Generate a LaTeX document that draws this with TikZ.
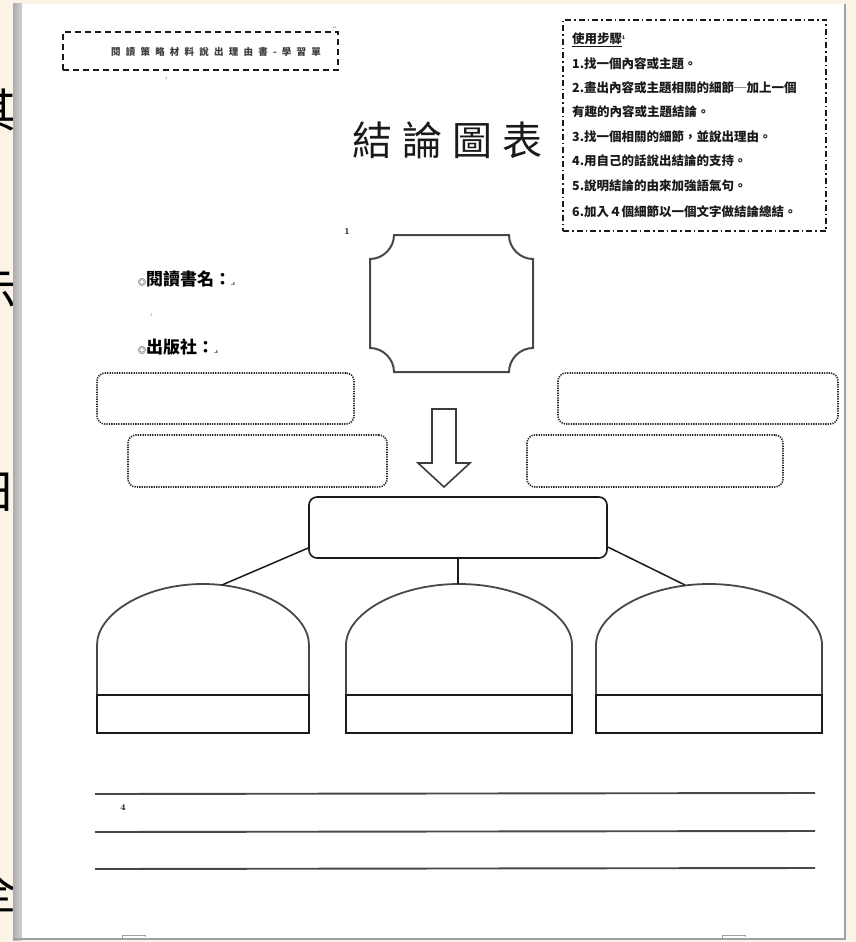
\documentclass[tikz,border=0pt]{standalone}
\usepackage{fontspec}
\newfontfamily\cjk{Noto Sans CJK TC}
\newfontfamily\cjkwide[LetterSpace=55]{Noto Sans CJK TC}
\newfontfamily\symf{DejaVu Sans}
\definecolor{bgbeige}{HTML}{FBF4E6}
\definecolor{strip}{HTML}{A9ADB2}
\definecolor{edge}{HTML}{9EA2A6}
\definecolor{ink}{HTML}{1A1A1A}
\definecolor{dotink}{HTML}{2A2A2A}
\tikzset{
  dotbox/.style={draw=dotink, line width=1.6pt, dash pattern=on 1.3pt off 1.1pt, rounded corners=8pt, inner sep=0pt},
  solidbox/.style={draw=ink, line width=1.6pt, rounded corners=8pt, inner sep=0pt},
  labelbox/.style={draw=ink, line width=1.9pt, inner sep=0pt},
  dome/.style={draw=ink!80, line width=1.8pt},
  link/.style={draw=ink, line width=1.5pt},
  rule/.style={draw=ink!80, line width=1.9pt},
  steptext/.style={anchor=west, inner sep=0pt, text=ink, font=\cjk\bfseries\fontsize{12.5}{14}\selectfont},
  bgchar/.style={font=\cjk\fontsize{46}{46}\selectfont, text=black},
}
\begin{document}
\begin{tikzpicture}[x=1pt,y=-1pt]
\useasboundingbox (0,0) rectangle (856,942);
% background and page
\fill[bgbeige] (0,0) rectangle (856,942);
\begin{scope}
\clip (0,0) rectangle (14,942);
\node[bgchar] (bg1) at (-6,110) {其};
\node[bgchar] (bg2) at (-6,292) {示};
\node[bgchar] (bg3) at (-6,492) {日};
\node[bgchar] (bg4) at (-6,892) {全};
\end{scope}
\shade[left color=strip, right color=strip!55] (13,4) rectangle (22,940);
\fill[white] (22,4) rectangle (845,938);
\draw[edge, line width=1.5pt] (845,4) -- (845,939) -- (13,939);
\draw[edge, line width=1pt] (122,939) -- (122,935) -- (145,935) -- (145,937);
\draw[edge, line width=1pt] (722,939) -- (722,935) -- (745,935) -- (745,937);

% top-left heading box
\node[draw=ink, line width=1.6pt, dash pattern=on 6pt off 4pt, minimum width=275pt, minimum height=38pt, inner sep=0pt] (head) at (200.5,51) {};
\node[font=\cjkwide\bfseries\fontsize{9.5}{10}\selectfont, text=ink!85] (headtxt) at (216,52) {閱讀策略材料說出理由書-學習單};
\node[font=\symf\fontsize{5}{5}\selectfont, text=gray] (m1) at (335,28) {↵};
\node[font=\symf\fontsize{5}{5}\selectfont, text=gray] (m2) at (166,78) {.ı};

% steps box
\node[draw=ink, line width=1.5pt, dash pattern=on 6pt off 3pt on 1.5pt off 3pt, minimum width=263pt, minimum height=211pt, inner sep=0pt] (steps) at (694.5,125.5) {};
\node[steptext] (s0) at (572,40) {\underline{使用步驟}\textsuperscript{\tiny 1}};
\node[steptext] (s1) at (572,64) {1.找一個內容或主題。};
\node[steptext] (s2) at (572,88) {2.畫出內容或主題相關的細節─加上一個};
\node[steptext] (s3) at (572,112) {有趣的內容或主題結論。};
\node[steptext] (s4) at (572,137) {3.找一個相關的細節，並說出理由。};
\node[steptext] (s5) at (572,161) {4.用自己的話說出結論的支持。};
\node[steptext] (s6) at (572,186) {5.說明結論的由來加強語氣句。};
\node[steptext] (s7) at (572,212) {6.加入４個細節以一個文字做結論總結。};

% title
\node[font=\cjk\fontsize{40}{40}\selectfont, text=ink] (title) at (447,140) {結\hspace{10pt}論\hspace{10pt}圖\hspace{10pt}表};
\node[font=\bfseries\fontsize{9}{9}\selectfont] (n1) at (347,232) {1};

% book info
\node[anchor=west, inner sep=0pt, font=\cjk\bfseries\fontsize{17}{17}\selectfont] (book) at (138,279) {{\fontsize{8}{8}\selectfont ◎}閱讀書名：{\symf\fontsize{5}{5}\selectfont .ı}};
\node[anchor=west, inner sep=0pt, font=\symf\fontsize{5}{5}\selectfont, text=gray] (m3) at (149,315) {.ı};
\node[anchor=west, inner sep=0pt, font=\cjk\bfseries\fontsize{17}{17}\selectfont] (pub) at (138,347) {{\fontsize{8}{8}\selectfont ◎}出版社：{\symf\fontsize{5}{5}\selectfont .ı}};

% plaque
\draw[ink!80, line width=2pt] (394,235) -- (509,235)
  .. controls (509,248) and (520,259) .. (533,259) -- (533,348)
  .. controls (520,348) and (509,359) .. (509,372) -- (394,372)
  .. controls (394,359) and (383,348) .. (370,348) -- (370,259)
  .. controls (383,259) and (394,248) .. (394,235) -- cycle;
\coordinate (plaque) at (451.5,303.5);

% dotted boxes
\node[dotbox, minimum width=257pt, minimum height=51pt] (l1) at (225.5,398.5) {};
\node[dotbox, minimum width=280pt, minimum height=51pt] (r1) at (698,398.5) {};
\node[dotbox, minimum width=259pt, minimum height=52pt] (l2) at (257.5,461) {};
\node[dotbox, minimum width=256pt, minimum height=52pt] (r2) at (655,461) {};

% down arrow
\draw[ink!85, line width=1.6pt, line join=miter] (432,409) -- (456,409) -- (456,463) -- (470,463) -- (444,487) -- (418,463) -- (432,463) -- cycle;

% central box
\node[solidbox, minimum width=298pt, minimum height=61pt] (c) at (458,527.5) {};

% domes
\foreach \xa/\xb/\nm in {97/309/d1, 346/572/d2, 596/822/d3}{
  \pgfmathsetmacro{\xm}{(\xa+\xb)/2}
  \pgfmathsetmacro{\hw}{(\xb-\xa)/2}
  \draw[dome] (\xa,695) -- (\xa,645)
    .. controls (\xa,614) and (\xm-0.552*\hw,584) .. (\xm,584)
    .. controls (\xm+0.552*\hw,584) and (\xb,614) .. (\xb,645) -- (\xb,695);
  \node[labelbox, minimum width={\xb-\xa}, minimum height=38pt] (\nm) at (\xm,714) {};
}
\coordinate (t1) at (222,585);
\coordinate (t2) at (458,584);
\coordinate (t3) at (685,585);
\draw[link] ([yshift=-20.5pt]c.west) -- (t1);
\draw[link] (c.south) -- (t2);
\draw[link] ([yshift=-19.5pt]c.east) -- (t3);

% writing lines
\coordinate (a1) at (95,794); \coordinate (b1) at (815,793);
\coordinate (a2) at (95,832); \coordinate (b2) at (815,831);
\coordinate (a3) at (95,869); \coordinate (b3) at (815,868);
\draw[rule] (a1) -- (b1);
\draw[rule] (a2) -- (b2);
\draw[rule] (a3) -- (b3);
\node[font=\bfseries\fontsize{9}{9}\selectfont] (n4) at (123,808) {4};
\end{tikzpicture}
\end{document}
